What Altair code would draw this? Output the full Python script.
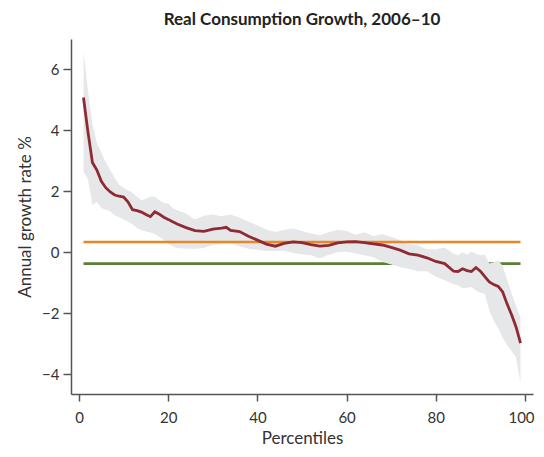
import altair as alt
import pandas as pd

# percentile grid
pct = [1, 2, 3, 4, 5, 6, 7, 8, 9, 10,
       11, 12, 13, 14, 15, 16, 17, 18, 19, 20,
       21, 22, 24, 26, 28, 30, 32, 33, 34,
       36, 38, 40, 42, 44, 46, 48, 50, 52, 54,
       56, 58, 60, 62, 64, 66, 68, 70, 72, 74,
       76, 78, 80, 82, 84,
       85, 86, 87, 88, 89, 90, 91, 92, 93, 94, 95, 96, 97, 98, 99]

growth = [5.08, 3.95, 2.95, 2.70, 2.33, 2.12, 1.98, 1.88, 1.84, 1.81,
          1.65, 1.40, 1.37, 1.32, 1.24, 1.17, 1.33, 1.25, 1.15, 1.08,
          1.00, 0.93, 0.81, 0.71, 0.69, 0.76, 0.79, 0.82, 0.72,
          0.68, 0.53, 0.40, 0.27, 0.20, 0.29, 0.34, 0.32, 0.25, 0.20,
          0.23, 0.31, 0.34, 0.35, 0.32, 0.28, 0.24, 0.16, 0.07, -0.05,
          -0.09, -0.18, -0.30, -0.37, -0.62,
          -0.63, -0.54, -0.60, -0.63, -0.50, -0.62, -0.80, -0.97, -1.06, -1.12,
          -1.30, -1.70, -2.05, -2.45, -2.98]

band_hi = [6.60, 5.30, 4.20, 3.58, 3.28, 2.95, 2.70, 2.45, 2.22, 2.12,
           2.04, 1.95, 1.82, 1.71, 1.76, 1.83, 1.82, 1.72, 1.62, 1.60,
           1.45, 1.38, 1.27, 1.08, 1.20, 1.24, 1.18, 1.22, 1.24,
           1.13, 1.01, 0.88, 0.75, 0.67, 0.73, 0.78, 0.70, 0.62, 0.56,
           0.66, 0.74, 0.70, 0.58, 0.66, 0.53, 0.60, 0.50, 0.40, 0.27,
           0.22, 0.10, 0.10, 0.16, -0.05,
           -0.10, 0.00, -0.08, 0.03, -0.05, -0.10, -0.07, -0.37, -0.33, -0.26,
           -0.45, -0.90, -1.35, -1.75, -2.15]

band_lo = [2.64, 2.40, 1.55, 1.65, 1.45, 1.40, 1.35, 1.22, 1.15, 1.08,
           1.00, 0.92, 0.80, 0.72, 0.68, 0.65, 0.60, 0.50, 0.40, 0.28,
           0.20, 0.14, 0.12, 0.12, 0.14, 0.24, 0.27, 0.28, 0.28,
           0.20, 0.12, 0.08, 0.04, 0.04, 0.05, -0.02, -0.06, -0.10, -0.20,
           -0.08, 0.00, 0.02, -0.04, -0.10, -0.16, -0.31, -0.40, -0.48, -0.55,
           -0.62, -0.62, -0.80, -0.92, -1.05,
           -1.08, -1.18, -1.16, -1.14, -1.25, -1.33, -1.37, -1.90, -2.25, -2.50,
           -2.80, -3.05, -3.25, -3.45, -4.30]

ref_names = ['upper', 'lower']
ref_levels = [0.34, -0.37]
ref_start, ref_end = 1, 99

df = pd.DataFrame({'pct': pct, 'growth': growth, 'hi': band_hi, 'lo': band_lo})
refs = pd.DataFrame({'name': ref_names, 'level': ref_levels,
                     'start': ref_start, 'end': ref_end})

FONT = 'Lato'

x_scale = alt.Scale(domain=[-1.8, 101.8], nice=False, zero=False)
y_scale = alt.Scale(domain=[-4.65, 7.0], nice=False, zero=False)

# nudge the "100" label a touch left so it stays inside the page
x_axis = alt.Axis(values=[0, 20, 40, 60, 80, 100], title='Percentiles', grid=False,
                  tickSize=7, labelPadding=9, titlePadding=5,
                  labelOffset={'condition': {'test': 'datum.value == 100', 'value': -4},
                               'value': 0})
y_axis = alt.Axis(values=[-4, -2, 0, 2, 4, 6], title='Annual growth rate %', grid=False,
                  tickSize=8, labelPadding=4, titlePadding=7)

band = alt.Chart(df).mark_area(color='#E6E7E8', opacity=1).encode(
    x=alt.X('pct:Q', scale=x_scale, axis=x_axis),
    y=alt.Y('hi:Q', scale=y_scale, axis=y_axis),
    y2='lo:Q',
)

green = alt.Chart(refs).transform_filter(alt.datum.name == 'lower').mark_rule(
    color='#5B7F36', strokeWidth=2.6
).encode(x='start:Q', x2='end:Q', y='level:Q')

orange = alt.Chart(refs).transform_filter(alt.datum.name == 'upper').mark_rule(
    color='#E8862A', strokeWidth=2.6
).encode(x='start:Q', x2='end:Q', y='level:Q')

line = alt.Chart(df).mark_line(color='#8E2A33', strokeWidth=2.8).encode(
    x='pct:Q', y='growth:Q'
)

# total size kept at 528x441 so the page fits the 544x457 window
chart = alt.layer(green, band, orange, line).properties(
    width=462,
    height=355,
    autosize=alt.AutoSizeParams(type='none'),
    padding={'left': 63, 'top': 31, 'right': 3, 'bottom': 55},
    title=alt.TitleParams('Real Consumption Growth, 2006–10', anchor='middle',
                          fontSize=17, font=FONT, fontWeight='bold',
                          color='#222222', offset=10),
).configure_view(stroke=None).configure_axis(
    labelFont=FONT, titleFont=FONT, labelFontSize=15, titleFontSize=17,
    titleFontWeight='normal', labelColor='#333333', titleColor='#333333',
    domainColor='#555555', tickColor='#555555', domainWidth=1.5, tickWidth=1.5,
)

chart.save('out.html', embed_options={'renderer': 'svg', 'actions': False})
